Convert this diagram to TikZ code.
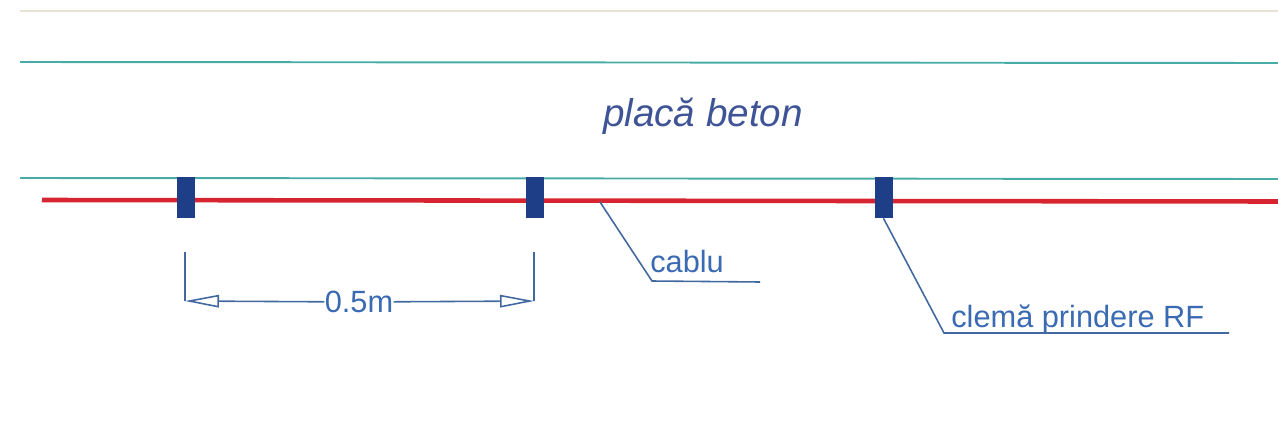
\documentclass[tikz,border=0pt]{standalone}
\usepackage{fontspec}
\setmainfont{Liberation Sans}
\usetikzlibrary{arrows.meta}
\definecolor{beton}{RGB}{70,172,165}
\definecolor{cablu}{RGB}{214,36,48}
\definecolor{clema}{RGB}{30,62,136}
\definecolor{leader}{RGB}{66,104,160}
\definecolor{eticheta}{RGB}{58,106,178}
\definecolor{titlu}{RGB}{62,84,150}
\definecolor{margine}{RGB}{232,226,214}
\tikzset{
  clamp/.style={fill=clema,inner sep=0pt,minimum width=0.36cm,minimum height=0.82cm},
  label/.style={text=eticheta,inner sep=0pt,font=\fontsize{17.5}{20}\selectfont},
  betonline/.style={beton,line width=1.1pt},
  leaderline/.style={leader,line width=0.9pt},
  dimtip/.style={-{Triangle[open,length=0.68cm,width=0.25cm,line width=0.9pt]}}
}
\begin{document}
\begin{tikzpicture}[x=0.02cm,y=0.02cm]
\useasboundingbox (0,0) rectangle (1278,427);
\coordinate (topL) at (20,416);
\coordinate (topR) at (1278,416);
\coordinate (b1L) at (20,365);
\coordinate (b1R) at (1278,364);
\coordinate (b2L) at (20,249);
\coordinate (b2R) at (1278,248);
\coordinate (cableL) at (42,227);
\coordinate (cableR) at (1278,225.5);
\coordinate (cableP) at (600,225);
\coordinate (cableK) at (652,146);
\coordinate (cableE) at (760,145);
\coordinate (clampK) at (944,94);
\coordinate (clampE) at (1229,94);
\coordinate (dimLt) at (185,175);
\coordinate (dimLb) at (185,126);
\coordinate (dimRt) at (534,175);
\coordinate (dimRb) at (534,126);
\draw[margine,line width=0.8pt] (topL) -- (topR);
\draw[betonline] (b1L) -- (b1R);
\draw[betonline] (b2L) -- (b2R);
\draw[cablu,line width=2.6pt] (cableL) -- (cableR);
\node[clamp] (clamp1) at (186,229.5) {};
\node[clamp] (clamp2) at (535,229.5) {};
\node[clamp] (clamp3) at (883.5,229.5) {};
\node[text=titlu,inner sep=0pt,font=\fontsize{22}{26}\selectfont\itshape] (placa) at (703,311) {placă beton};
\node[label,anchor=base west] (cablutxt) at (650,155) {cablu};
\node[label,anchor=base west] (clematxt) at (951,100) {clemă prindere RF};
\node[label,inner xsep=0pt] (dimtxt) at (359,125) {0.5m};
\draw[leaderline] (cableP) -- (cableK) -- (cableE);
\draw[leaderline] (clamp3.south) -- (clampK) -- (clampE);
\draw[leaderline] (dimLt) -- (dimLb);
\draw[leaderline] (dimRt) -- (dimRb);
\draw[leaderline,dimtip] (dimtxt) -- (dimLb);
\draw[leaderline,dimtip] (dimtxt) -- (dimRb);
\end{tikzpicture}
\end{document}
